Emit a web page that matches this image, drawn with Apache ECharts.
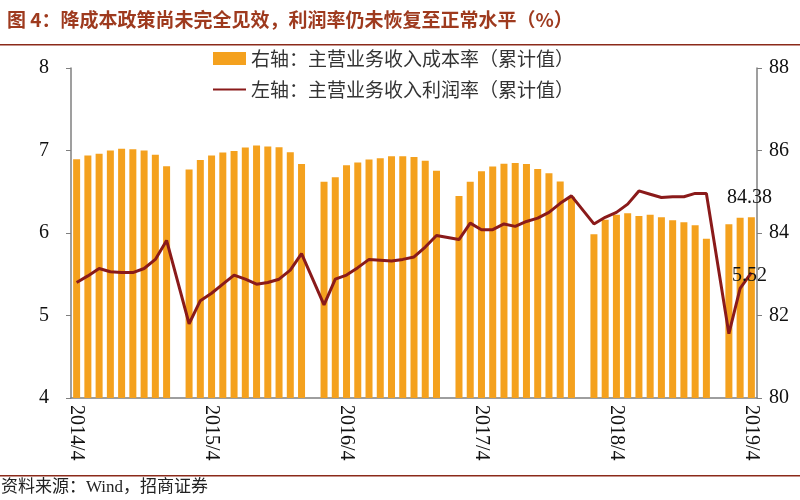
<!DOCTYPE html>
<html>
<head>
<meta charset="utf-8">
<script src="https://cdn.jsdelivr.net/npm/echarts@6/dist/echarts.min.js"></script>
<style>html,body{margin:0;padding:0;background:#fff;}#c{width:800px;height:500px;}</style>
</head>
<body>
<div id="c"></div>
<script>
const categories = [
  '2014/4','2014/5','2014/6','2014/7','2014/8','2014/9','2014/10','2014/11','2014/12',
  '2015/1','2015/2','2015/3','2015/4','2015/5','2015/6','2015/7','2015/8','2015/9','2015/10','2015/11','2015/12',
  '2016/1','2016/2','2016/3','2016/4','2016/5','2016/6','2016/7','2016/8','2016/9','2016/10','2016/11','2016/12',
  '2017/1','2017/2','2017/3','2017/4','2017/5','2017/6','2017/7','2017/8','2017/9','2017/10','2017/11','2017/12',
  '2018/1','2018/2','2018/3','2018/4','2018/5','2018/6','2018/7','2018/8','2018/9','2018/10','2018/11','2018/12',
  '2019/1','2019/2','2019/3','2019/4'
];
// 右轴：主营业务收入成本率（累计值）
const costRate = [
  85.79, 85.88, 85.92, 86.00, 86.04, 86.03, 86.00, 85.90, 85.62,
  null, 85.54, 85.77, 85.88, 85.95, 85.99, 86.07, 86.12, 86.10, 86.08, 85.96, 85.67,
  null, 85.24, 85.35, 85.64, 85.71, 85.78, 85.81, 85.86, 85.86, 85.84, 85.75, 85.51,
  null, 84.90, 85.24, 85.50, 85.61, 85.68, 85.70, 85.67, 85.55, 85.45, 85.25, 84.88,
  null, 83.97, 84.32, 84.44, 84.48, 84.41, 84.44, 84.38, 84.31, 84.26, 84.19, 83.86,
  null, 84.21, 84.37, 84.38
];
// 左轴：主营业务收入利润率（累计值）
const profitRate = [
  5.40, 5.48, 5.57, 5.53, 5.52, 5.52, 5.57, 5.68, 5.91,
  null, 4.90, 5.18, 5.27, 5.38, 5.49, 5.44, 5.38, 5.40, 5.44, 5.55, 5.75,
  null, 5.13, 5.44, 5.49, 5.58, 5.68, 5.67, 5.66, 5.68, 5.71, 5.83, 5.97,
  null, 5.92, 6.12, 6.04, 6.04, 6.11, 6.08, 6.14, 6.18, 6.25, 6.36, 6.45,
  null, 6.11, 6.19, 6.25, 6.35, 6.51, 6.47, 6.43, 6.44, 6.44, 6.48, 6.48,
  null, 4.78, 5.33, 5.52
];
const leftTicks = [4, 5, 6, 7, 8];
const rightTicks = [80, 82, 84, 86, 88];

const serif = '"Liberation Serif", "DejaVu Serif", serif';
const mixed = '"Liberation Serif", "Noto Sans CJK SC", serif';
const cjk = '"Noto Sans CJK SC", sans-serif';
const last = categories.length - 1;

const barData = costRate.map((v, i) => i === last ? {
  value: v,
  label: { show: true, position: 'top', offset: [-2, -5], formatter: '{c}',
           fontFamily: serif, fontSize: 20, color: '#111' }
} : v);
const lineData = profitRate.map((v, i) => i === last ? {
  value: v,
  label: { show: true, position: 'inside', offset: [-2, 3], formatter: '{c}',
           fontFamily: serif, fontSize: 20, color: '#111' }
} : v);

const chart = echarts.init(document.getElementById('c'), null, { renderer: 'canvas' });
chart.setOption({
  backgroundColor: '#fff',
  animation: false,
  title: {
    text: '图 4：降成本政策尚未完全见效，利润率仍未恢复至正常水平（%）',
    left: 2, top: 5,
    textStyle: { fontFamily: cjk, fontSize: 19, fontWeight: 'bold', color: '#9E3A1E' }
  },
  legend: {
    orient: 'vertical', left: 207, top: 44,
    itemWidth: 33, itemHeight: 13, itemGap: 12,
    textStyle: { fontFamily: cjk, fontSize: 19, color: '#333' },
    data: [
      { name: '右轴：主营业务收入成本率（累计值）', icon: 'rect' },
      { name: '左轴：主营业务收入利润率（累计值）', itemStyle: { opacity: 0 } }
    ]
  },
  grid: { left: 71, right: 43, top: 68, bottom: 102 },
  xAxis: {
    type: 'category',
    data: categories,
    boundaryGap: true,
    axisLine: { lineStyle: { color: '#7f7f7f', width: 1.5 } },
    axisTick: { show: false },
    axisLabel: { interval: 11, rotate: -90, margin: 7, fontFamily: serif, fontSize: 20, color: '#111' }
  },
  yAxis: [
    {
      type: 'value', min: 4, max: 8, interval: 1, position: 'left',
      axisLine: { show: true, lineStyle: { color: '#7f7f7f', width: 1.5 } },
      axisTick: { show: true, length: 5, lineStyle: { color: '#7f7f7f' } },
      splitLine: { show: false },
      axisLabel: { margin: 22, fontFamily: serif, fontSize: 20, color: '#111',
                   formatter: v => leftTicks.includes(v) ? String(v) : '' }
    },
    {
      type: 'value', min: 80, max: 88, interval: 2, position: 'right',
      axisLine: { show: true, lineStyle: { color: '#7f7f7f', width: 1.5 } },
      axisTick: { show: true, length: 5, lineStyle: { color: '#7f7f7f' } },
      splitLine: { show: false },
      axisLabel: { margin: 12, fontFamily: serif, fontSize: 20, color: '#111',
                   formatter: v => rightTicks.includes(v) ? String(v) : '' }
    }
  ],
  series: [
    {
      name: '右轴：主营业务收入成本率（累计值）',
      type: 'bar', yAxisIndex: 1,
      data: barData,
      barWidth: 7,
      itemStyle: { color: '#F4A11E' }
    },
    {
      name: '左轴：主营业务收入利润率（累计值）',
      type: 'line', yAxisIndex: 0,
      data: lineData,
      connectNulls: true,
      symbol: 'circle', symbolSize: 0, showSymbol: true,
      lineStyle: { color: '#8A1A1A', width: 3 },
      itemStyle: { color: '#8A1A1A' },
      z: 5
    }
  ],
  graphic: [
    { type: 'rect', left: 0, top: 44, shape: { width: 800, height: 1.5 }, style: { fill: '#8B2A1A' }, silent: true },
    { type: 'rect', left: 0, top: 475, shape: { width: 800, height: 1.5 }, style: { fill: '#8B2A1A' }, silent: true },
    { type: 'text', left: 1, top: 479,
      style: { text: '资料来源：Wind，招商证券', font: '17px "Liberation Serif", "Noto Sans CJK SC", serif', fill: '#222' } }
  ]
});
</script>
</body>
</html>
